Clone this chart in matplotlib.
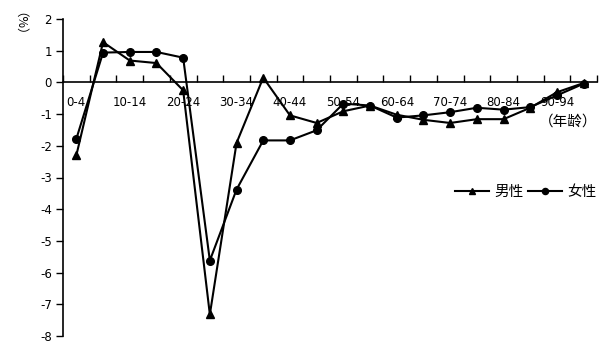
import matplotlib
matplotlib.use("Agg")
import matplotlib.pyplot as plt
import numpy as np

plt.rcParams['font.family'] = ['Noto Sans CJK SC', 'DejaVu Sans']

categories = ["0-4", "5-9", "10-14", "15-19", "20-24", "25-29", "30-34", "35-39",
              "40-44", "45-49", "50-54", "55-59", "60-64", "65-69", "70-74",
              "75-79", "80-84", "85-89", "90-94", "95-99"]
male = [-2.30, 1.27, 0.69, 0.61, -0.25, -7.32, -1.91, 0.15, -1.04, -1.28,
        -0.91, -0.73, -1.02, -1.18, -1.28, -1.16, -1.16, -0.80, -0.31, -0.02]
female = [-1.78, 0.94, 0.96, 0.96, 0.78, -5.62, -3.38, -1.83, -1.83, -1.51,
          -0.67, -0.73, -1.11, -1.04, -0.94, -0.80, -0.86, -0.78, -0.41, -0.04]
yticks = list(range(-8, 3))

fig = plt.figure(figsize=(6.16, 3.6), dpi=100)
ax = fig.add_axes([63/616, 1-336/360, (597-63)/616, (336-19)/360])

x = np.arange(len(categories)) + 0.5
ax.plot(x, male, color='black', lw=1.5, marker='^', ms=5.5, label='男性')
ax.plot(x, female, color='black', lw=1.5, marker='o', ms=5.5, label='女性')

ax.set_xlim(0, len(categories))
ax.set_ylim(-8, 2)
ax.spines['top'].set_visible(False)
ax.spines['right'].set_visible(False)
ax.spines['bottom'].set_position(('data', 0))
ax.spines['bottom'].set_linewidth(1.2)
ax.spines['left'].set_linewidth(1.2)

ax.set_xticks(np.arange(0, len(categories) + 1))
ax.set_xticklabels([])
ax.tick_params(axis='x', which='major', direction='in', length=5, width=1)
ax.set_xticks(x[::2], minor=True)
ax.set_xticklabels(categories[::2], minor=True, fontsize=8.5, family='DejaVu Sans')
ax.tick_params(axis='x', which='minor', length=0, pad=10)

ax.set_yticks(yticks)
ax.set_yticklabels([str(v) for v in yticks], fontsize=8.5, family='DejaVu Sans')
ax.tick_params(axis='y', direction='out', length=5, width=1, pad=3)

fig.text(13/616, 1-30/360, '（%）', rotation=270, ha='center', va='center', fontsize=9)
fig.text(568/616, 1-122/360, '（年龄）', ha='center', va='center', fontsize=10.5)

leg = fig.legend(loc='center right', bbox_to_anchor=(597/616, 1-192/360), ncol=2,
                 frameon=False, fontsize=10.5, handlelength=2.3, handletextpad=0.4,
                 columnspacing=0.3, borderpad=0, borderaxespad=0, markerscale=0.8)

fig.savefig('out.png', dpi=100)
